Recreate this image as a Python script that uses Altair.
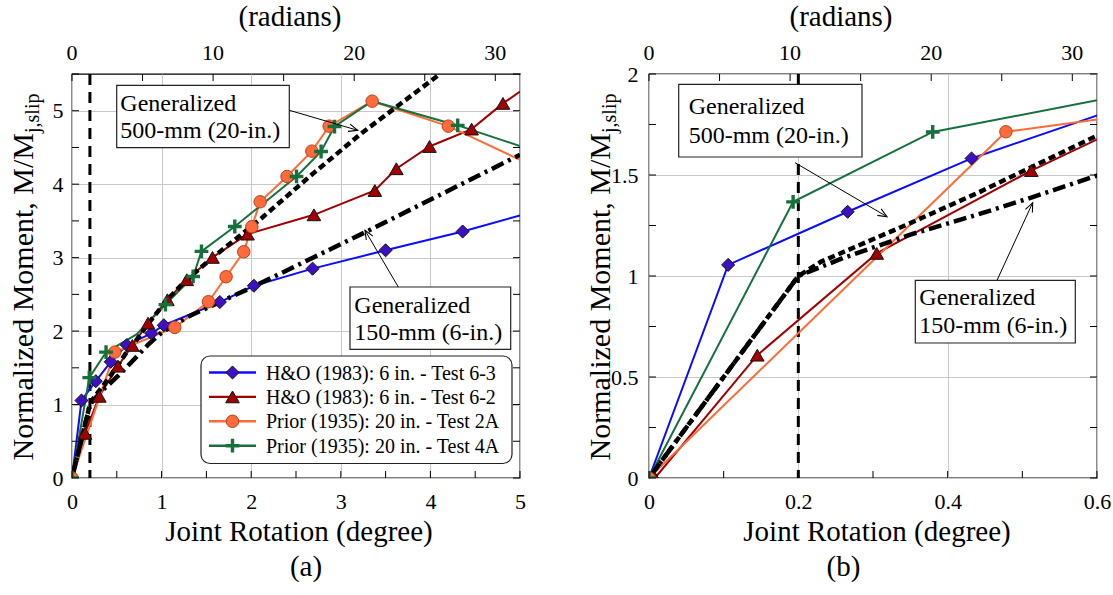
import math
import altair as alt
import pandas as pd

FONT = "Liberation Serif"

# ---------------- data: joint rotation (degree) vs normalized moment ----------------
ho63_x = [0, 0.106, 0.266, 0.432, 0.612, 0.886, 1.025, 1.65, 2.03, 2.685, 3.50, 4.36, 5.0]
ho63_y = [0, 1.055, 1.318, 1.582, 1.81, 1.968, 2.08, 2.395, 2.617, 2.85, 3.10, 3.356, 3.574]
ho63_mk = [1, 1, 1, 1, 1, 1, 1, 1, 1, 1, 1, 1, 0]

ho62_x = [0.008, 0.145, 0.305, 0.512, 0.674, 0.849, 1.065, 1.281, 1.568, 1.959, 2.70, 3.38, 3.62, 3.99, 4.46, 4.81, 5.0]
ho62_y = [0, 0.608, 1.112, 1.522, 1.805, 2.109, 2.427, 2.699, 3.003, 3.32, 3.583, 3.914, 4.21, 4.513, 4.75, 5.10, 5.26]
ho62_mk = [1, 1, 1, 1, 1, 1, 1, 1, 1, 1, 1, 1, 1, 1, 1, 1, 0]

p2a_x = [0, 0.478, 1.147, 1.523, 1.72, 1.917, 2.007, 2.10, 2.40, 2.677, 2.87, 3.35, 4.20, 5.0]
p2a_y = [0, 1.714, 2.05, 2.40, 2.74, 3.08, 3.42, 3.76, 4.105, 4.45, 4.79, 5.13, 4.79, 4.33]
p2a_mk = [1, 1, 1, 1, 1, 1, 1, 1, 1, 1, 1, 1, 1, 0]

p4a_x = [0, 0.193, 0.38, 0.72, 1.043, 1.352, 1.445, 1.817, 2.506, 2.78, 2.93, 3.35, 4.305, 5.0]
p4a_y = [0, 1.367, 1.713, 1.955, 2.36, 2.744, 3.085, 3.424, 4.105, 4.445, 4.785, 5.13, 4.80, 4.52]
p4a_mk = [1, 1, 1, 0, 1, 1, 1, 1, 1, 1, 1, 0, 1, 0]

gen500_x = [0, 0.2, 0.23, 0.35, 0.44, 0.51, 0.6, 0.674, 0.85, 1.065, 1.28, 1.57, 2.115, 2.674, 3.232, 4.107]
gen500_y = [0, 1.0, 1.07, 1.262, 1.411, 1.535, 1.695, 1.80, 2.10, 2.43, 2.70, 3.0, 3.537, 4.128, 4.694, 5.5]

gen150_x = [0, 0.2, 0.26, 0.35, 0.44, 0.51, 0.6, 0.85, 1.0, 1.3, 2.03, 3.29, 5.0]
gen150_y = [0, 1.0, 1.089, 1.205, 1.304, 1.386, 1.497, 1.816, 1.98, 2.2, 2.608, 3.356, 4.40]

slip_x = [0.2]

series_names = ["H&O (1983): 6 in. - Test 6-3", "H&O (1983): 6 in. - Test 6-2",
                "Prior (1935): 20 in. - Test 2A", "Prior (1935): 20 in. - Test 4A"]

# axis tick labels / tick marks
left_xlab = [0, 1, 2, 3, 4, 5]
left_ylab = [0, 1, 2, 3, 4, 5]
left_xtick = [0, 0.5, 1, 1.5, 2, 2.5, 3, 3.5, 4, 4.5, 5]
left_ytick = [0, 0.5, 1, 1.5, 2, 2.5, 3, 3.5, 4, 4.5, 5, 5.5]
right_xlab = [0, 0.2, 0.4, 0.6]
right_ylab = [0, 0.5, 1, 1.5, 2]
right_xtick = [0, 0.1, 0.2, 0.3, 0.4, 0.5, 0.6]
right_ytick = [0, 0.25, 0.5, 0.75, 1, 1.25, 1.5, 1.75, 2]
rad_lab = [0, 10, 20, 30]
rad_tick = [0, 5, 10, 15, 20, 25, 30]
RAD_TOP = 31.75  # top-axis reading at the right edge of each panel

# ---------------- styles ----------------
STY = [
    dict(line="#0b0bff", fill="#3d10c4", stroke="#111111", shape="diamond", size=170, sw=1, filled=True),
    dict(line="#a00000", fill="#a00000", stroke="#111111", shape="triangle-up", size=185, sw=1, filled=True),
    dict(line="#ff6b35", fill="#ff6b3a", stroke="#b8401c", shape="circle", size=155, sw=1, filled=True),
    dict(line="#16703c", fill="#16703c", stroke="#16703c", shape="M-1,0H1M0,-1V1", size=190, sw=3.4, filled=False),
]
DATA = [(ho63_x, ho63_y, ho63_mk), (ho62_x, ho62_y, ho62_mk), (p2a_x, p2a_y, p2a_mk), (p4a_x, p4a_y, p4a_mk)]

W, H = 448, 404


def one():
    return alt.Data(values=[{"k": 0}])


def text_at(txt, x, y, size, align="left", baseline="alphabetic", angle=0):
    return alt.Chart(one()).mark_text(
        text=txt, font=FONT, fontSize=size, align=align, baseline=baseline,
        angle=angle, color="black").encode(x=alt.value(x), y=alt.value(y))


def box(x1, y1, x2, y2, radius=0):
    return alt.Chart(one()).mark_rect(
        fill="white", stroke="#222222", strokeWidth=1.2, cornerRadius=radius).encode(
        x=alt.value(x1), x2=alt.value(x2), y=alt.value(y1), y2=alt.value(y2))


def arrow(x1, y1, x2, y2):
    ang = math.degrees(math.atan2(x2 - x1, -(y2 - y1))) % 360
    shaft = alt.Chart(one()).mark_rule(color="black", strokeWidth=1).encode(
        x=alt.value(x1), y=alt.value(y1), x2=alt.value(x2), y2=alt.value(y2))
    head = alt.Chart(one()).mark_point(
        shape="M-0.42,1L0,0L0.42,1", size=324, filled=False, stroke="black",
        strokeWidth=1.1, opacity=1, angle=ang).encode(x=alt.value(x2), y=alt.value(y2))
    return [shaft, head]


def marker(st, **enc):
    if st["filled"]:
        m = alt.Chart(enc.pop("data")).mark_point(
            shape=st["shape"], size=st["size"], filled=True, fill=st["fill"],
            stroke=st["stroke"], strokeWidth=st["sw"], opacity=1, clip=enc.pop("clip"))
    else:
        m = alt.Chart(enc.pop("data")).mark_point(
            shape=st["shape"], size=st["size"], filled=False,
            stroke=st["stroke"], strokeWidth=st["sw"], opacity=1, clip=enc.pop("clip"))
    return m, enc


def panel(xmax, ymax, xlab, ylab, xtick, ytick, ann, plabel, plabel_cx, xtitle_cx, rad_cx,
          ylab_pad, legend):
    xs = alt.Scale(domain=[0, xmax], nice=False, zero=False)
    ys = alt.Scale(domain=[0, ymax], nice=False, zero=False)
    X = alt.X("x:Q", scale=xs, axis=alt.Axis(
        values=xlab, grid=True, gridColor="#c8c8c8", gridWidth=1, ticks=False, tickSize=0,
        domain=False, labelFont=FONT, labelFontSize=22, labelColor="black", labelPadding=13,
        labelFlush=False, labelOverlap=False, format="~g", title=None))
    Y = alt.Y("y:Q", scale=ys, axis=alt.Axis(
        values=ylab, grid=True, gridColor="#c8c8c8", gridWidth=1, ticks=False, tickSize=0,
        domain=False, labelFont=FONT, labelFontSize=22, labelColor="black", labelPadding=ylab_pad,
        labelFlush=False, labelOverlap=False, format="~g", title=None))

    layers = []
    # slip rotation line
    layers.append(alt.Chart(pd.DataFrame({"x": slip_x})).mark_rule(
        color="black", strokeWidth=3, strokeDash=[11, 7]).encode(x=X))
    # test curves
    for (sx, sy, mk), st in zip(DATA, STY):
        df = pd.DataFrame({"x": sx, "y": sy, "m": mk, "i": list(range(len(sx)))})
        layers.append(alt.Chart(df).mark_line(color=st["line"], strokeWidth=2, clip=True).encode(
            x=X, y=Y, order="i:Q"))
    # generalized models
    layers.append(alt.Chart(pd.DataFrame({"x": gen150_x, "y": gen150_y, "i": list(range(len(gen150_x)))}))
                  .mark_line(color="black", strokeWidth=4.5, strokeDash=[13, 5, 3, 5], clip=True)
                  .encode(x=X, y=Y, order="i:Q"))
    layers.append(alt.Chart(pd.DataFrame({"x": gen500_x, "y": gen500_y, "i": list(range(len(gen500_x)))}))
                  .mark_line(color="black", strokeWidth=4.5, strokeDash=[7, 4], clip=True)
                  .encode(x=X, y=Y, order="i:Q"))
    # markers
    for (sx, sy, mk), st in zip(DATA, STY):
        df = pd.DataFrame({"x": sx, "y": sy, "m": mk})
        m, _ = marker(st, data=df, clip=True)
        layers.append(m.transform_filter("datum.m == 1").encode(x=X, y=Y))

    # inward tick marks
    dxt = pd.DataFrame({"x": xtick})
    dyt = pd.DataFrame({"y": ytick})
    drt = pd.DataFrame({"x": [r * xmax / RAD_TOP for r in rad_tick]})
    layers.append(alt.Chart(dxt).mark_rule(color="black", strokeWidth=1).encode(
        x=X, y=alt.value(H), y2=alt.value(H - 7)))
    layers.append(alt.Chart(drt).mark_rule(color="black", strokeWidth=1).encode(
        x=X, y=alt.value(0), y2=alt.value(7)))
    layers.append(alt.Chart(dyt).mark_rule(color="black", strokeWidth=1).encode(
        y=Y, x=alt.value(0), x2=alt.value(7)))
    layers.append(alt.Chart(dyt).mark_rule(color="black", strokeWidth=1).encode(
        y=Y, x=alt.value(W), x2=alt.value(W - 7)))
    # top (radians) labels
    drl = pd.DataFrame({"x": [r * xmax / RAD_TOP for r in rad_lab], "t": [str(r) for r in rad_lab]})
    layers.append(alt.Chart(drl).mark_text(font=FONT, fontSize=22, align="center",
                                           baseline="alphabetic", color="black").encode(
        x=X, y=alt.value(-14), text="t:N"))

    # titles
    layers.append(text_at("(radians)", rad_cx, -48, 29, align="center"))
    layers.append(text_at("Joint Rotation (degree)", xtitle_cx, 467, 29, align="center"))
    layers.append(text_at(plabel, plabel_cx, 502, 29, align="center"))
    layers.append(text_at("Normalized Moment, M/M", -39, 59, 30, align="right", angle=270))
    layers.append(text_at("j,slip", -33, 59, 20, align="left", angle=270))

    # annotations
    for (bx1, by1, bx2, by2), (tx, tb1, tb2), lines, (ax1, ay1, ax2, ay2) in ann:
        layers.append(box(bx1, by1, bx2, by2))
        layers.append(text_at(lines[0], tx, tb1, 24))
        layers.append(text_at(lines[1], tx, tb2, 24))
        layers.extend(arrow(ax1, ay1, ax2, ay2))

    if legend:
        layers.append(box(129, 282, 440, 389.5, radius=9))
        for i, (name, st) in enumerate(zip(series_names, STY)):
            cy = 298.5 + i * 24.4
            layers.append(alt.Chart(one()).mark_rule(color=st["line"], strokeWidth=2.4).encode(
                x=alt.value(137), x2=alt.value(184), y=alt.value(cy), y2=alt.value(cy)))
            m, _ = marker(st, data=one(), clip=False)
            layers.append(m.encode(x=alt.value(160.5), y=alt.value(cy)))
            layers.append(text_at(name, 194, cy + 1, 20, baseline="middle"))
        # layout anchor (top-left corner of the figure)
        layers.append(alt.Chart(one()).mark_rect(fill="white", opacity=0).encode(
            x=alt.value(-71), x2=alt.value(-70), y=alt.value(-73), y2=alt.value(-72)))

    return alt.layer(*layers).properties(width=W, height=H)


ann_left = [
    ((44.7, 11.3, 217.3, 73.7), (48.3, 37, 64.3), ["Generalized", "500-mm (20-in.)"], (217.3, 36.3, 285.7, 56.3)),
    ((278, 213, 438.7, 275.3), (282.3, 238.7, 266.3), ["Generalized", "150-mm (6-in.)"], (326.3, 213, 293, 156.3)),
]
ann_right = [
    ((29.7, 10.3, 213, 83), (39.7, 40.3, 68.7), ["Generalized", "500-mm (20-in.)"], (146, 88.7, 238, 142.7)),
    ((266.3, 206.3, 426.3, 269), (270.3, 231.3, 259.3), ["Generalized", "150-mm (6-in.)"], (348, 206.3, 383.7, 128.7)),
]

left = panel(5, 5.5, left_xlab, left_ylab, left_xtick, left_ytick, ann_left,
             "(a)", 234, 227, 218, 9, True)
right = panel(0.6, 2, right_xlab, right_ylab, right_xtick, right_ytick, ann_right,
              "(b)", 194.5, 228, 192, 11, False)

chart = alt.hconcat(left, right, spacing=129, bounds="flush").properties(
    padding=0, background="white").configure_view(stroke="black", strokeWidth=1.3)

chart.save("out.html", embed_options={"renderer": "svg", "actions": False})
